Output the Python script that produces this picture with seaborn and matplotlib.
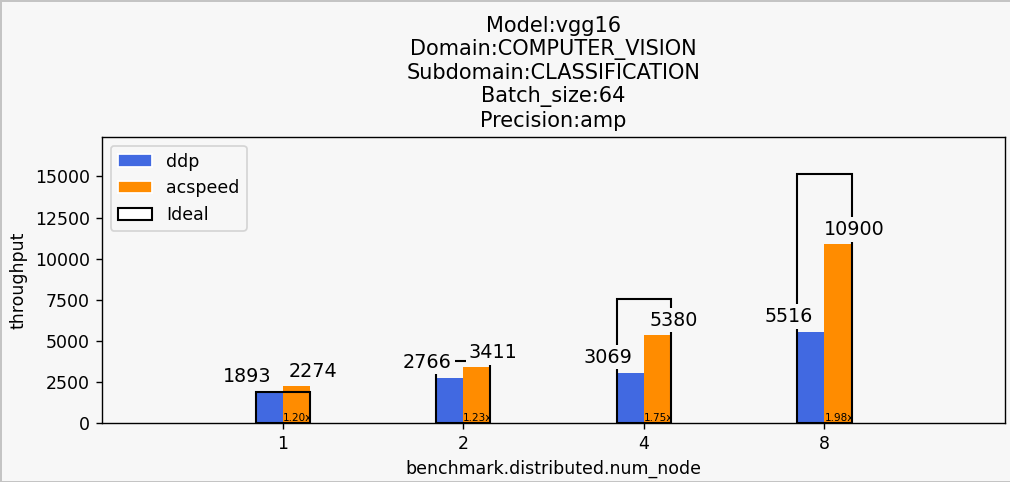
import pandas as pd
import matplotlib
matplotlib.use('Agg')
import matplotlib.pyplot as plt
from matplotlib.patches import Patch
import seaborn as sns

# data
num_nodes = ['1', '2', '4', '8']
ddp = [1893, 2766, 3069, 5516]
acspeed = [2274, 3411, 5380, 10900]
ideal = [ddp[0] * int(n) for n in num_nodes]
title_lines = ['Model:vgg16', 'Domain:COMPUTER_VISION', 'Subdomain:CLASSIFICATION',
               'Batch_size:64', 'Precision:amp']

sns.set_style('ticks')
plt.rcParams['font.family'] = ['DejaVu Sans']
for k in ['text.color', 'axes.labelcolor', 'xtick.color', 'ytick.color', 'axes.edgecolor']:
    plt.rcParams[k] = 'black'
bg = '#f7f7f7'

df = pd.DataFrame({
    'benchmark.distributed.num_node': num_nodes * 2,
    'throughput': ddp + acspeed,
    'method': ['ddp'] * len(ddp) + ['acspeed'] * len(acspeed),
})

fig = plt.figure(figsize=(1011 / 125, 482 / 125), dpi=125, facecolor=bg)
fig.patch.set_edgecolor('#c4c4c4')
fig.patch.set_linewidth(1.5)
ax = fig.add_axes([0.1009, 0.1224, 0.8932, 0.5934])
ax.set_facecolor(bg)

sns.barplot(data=df, x='benchmark.distributed.num_node', y='throughput', hue='method',
            order=num_nodes, hue_order=['ddp', 'acspeed'],
            palette={'ddp': 'royalblue', 'acspeed': 'darkorange'},
            width=0.3, errorbar=None, ax=ax, legend=False, saturation=1, linewidth=0)
sns.barplot(x=num_nodes, y=ideal, order=num_nodes, width=0.3, errorbar=None,
            fill=False, color='black', linewidth=1.2, ax=ax, zorder=3)

box = dict(boxstyle='square,pad=0.15', facecolor=bg, edgecolor='none')
for i, n in enumerate(num_nodes):
    ax.annotate(str(ddp[i]), (i - 0.075, ddp[i]), xytext=(2, 10), textcoords='offset pixels',
                ha='right', va='baseline', fontsize=11, bbox=box, zorder=5)
    ax.annotate(str(acspeed[i]), (i + 0.15, acspeed[i]), xytext=(3, 9), textcoords='offset pixels',
                ha='center', va='baseline', fontsize=11, bbox=box, zorder=5)
    ax.text(i, 150, '%.2fx' % (acspeed[i] / ddp[i]), fontsize=6, ha='left', va='baseline', zorder=6)

ax.set_xlim(-1, 4)
ax.set_ylim(0, 17400)
ax.set_xlabel('benchmark.distributed.num_node')
ax.set_ylabel('throughput')
ax.set_title('\n'.join(title_lines), fontsize=12)
for s in ax.spines.values():
    s.set_visible(True)

handles = [Patch(facecolor='royalblue', label='ddp'),
           Patch(facecolor='darkorange', label='acspeed'),
           Patch(facecolor='white', edgecolor='black', linewidth=1.2, label='Ideal')]
ax.legend(handles=handles, loc='upper left', facecolor=bg)

fig.savefig('out.png', dpi=125, facecolor=bg, edgecolor=fig.patch.get_edgecolor())
